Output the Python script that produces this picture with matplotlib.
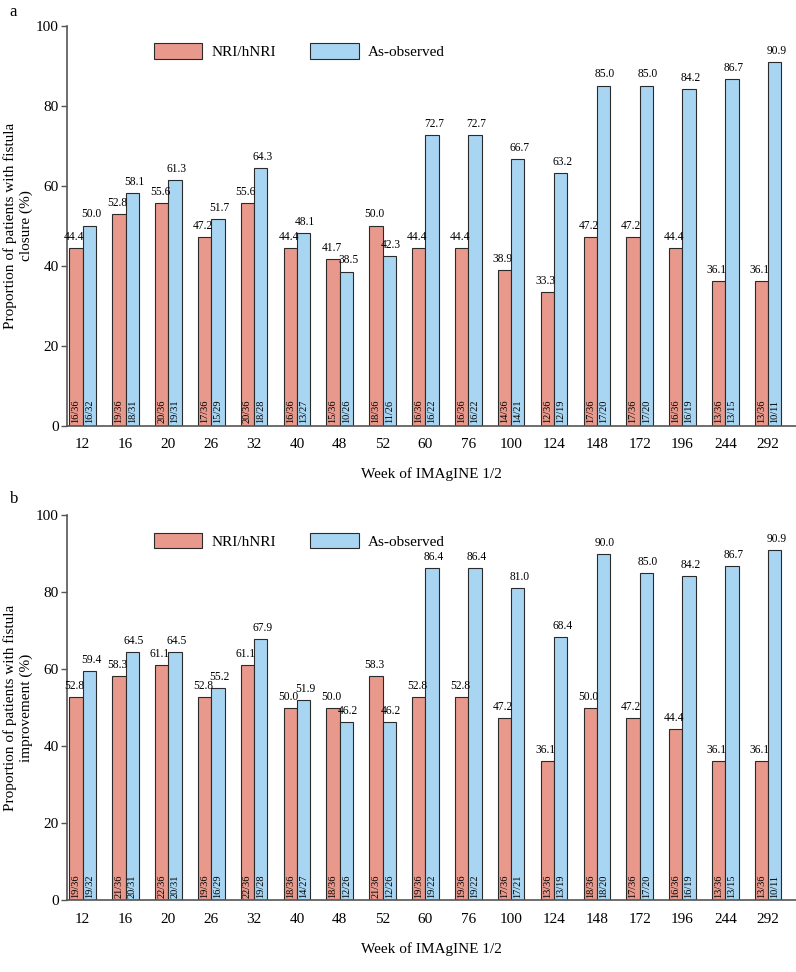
import matplotlib
matplotlib.use("Agg")
import matplotlib.pyplot as plt
import numpy as np
from matplotlib.patches import Patch

plt.rcParams['font.family'] = ['Liberation Serif', 'DejaVu Serif']

weeks = ["12", "16", "20", "26", "32", "40", "48", "52", "60", "76", "100", "124", "148", "172", "196", "244", "292"]

closure_nri = [44.4, 52.8, 55.6, 47.2, 55.6, 44.4, 41.7, 50.0, 44.4, 44.4, 38.9, 33.3, 47.2, 47.2, 44.4, 36.1, 36.1]
closure_ao = [50.0, 58.1, 61.3, 51.7, 64.3, 48.1, 38.5, 42.3, 72.7, 72.7, 66.7, 63.2, 85.0, 85.0, 84.2, 86.7, 90.9]
closure_nri_n = ["16/36", "19/36", "20/36", "17/36", "20/36", "16/36", "15/36", "18/36", "16/36", "16/36", "14/36", "12/36", "17/36", "17/36", "16/36", "13/36", "13/36"]
closure_ao_n = ["16/32", "18/31", "19/31", "15/29", "18/28", "13/27", "10/26", "11/26", "16/22", "16/22", "14/21", "12/19", "17/20", "17/20", "16/19", "13/15", "10/11"]

improve_nri = [52.8, 58.3, 61.1, 52.8, 61.1, 50.0, 50.0, 58.3, 52.8, 52.8, 47.2, 36.1, 50.0, 47.2, 44.4, 36.1, 36.1]
improve_ao = [59.4, 64.5, 64.5, 55.2, 67.9, 51.9, 46.2, 46.2, 86.4, 86.4, 81.0, 68.4, 90.0, 85.0, 84.2, 86.7, 90.9]
improve_nri_n = ["19/36", "21/36", "22/36", "19/36", "22/36", "18/36", "18/36", "21/36", "19/36", "19/36", "17/36", "13/36", "18/36", "17/36", "16/36", "13/36", "13/36"]
improve_ao_n = ["19/32", "20/31", "20/31", "16/29", "19/28", "14/27", "12/26", "12/26", "19/22", "19/22", "17/21", "13/19", "18/20", "17/20", "16/19", "13/15", "10/11"]

RED = "#E8998B"
BLUE = "#A8D5F1"
EDGE = "#2a2a2a"
AXC = "#555555"

fig = plt.figure(figsize=(7.96, 9.72), dpi=100)

def panel(rect, nri, ao, nri_n, ao_n, ylabel, letter, letter_y):
    ax = fig.add_axes(rect)
    x = np.arange(len(weeks))
    w = 0.31
    ax.bar(x - w/2, nri, w, color=RED, edgecolor=EDGE, linewidth=0.8, label="NRI/hNRI")
    ax.bar(x + w/2, ao, w, color=BLUE, edgecolor=EDGE, linewidth=0.8, label="As-observed")
    for i in range(len(weeks)):
        ax.text(x[i] - w/2 - 0.04, nri[i] + 1.3, f"{nri[i]:.1f}", ha='center', va='bottom', fontsize=8.3)
        ax.text(x[i] + w/2 + 0.04, ao[i] + 1.3, f"{ao[i]:.1f}", ha='center', va='bottom', fontsize=8.3)
        ax.text(x[i] - w/2, 0.6, nri_n[i], rotation=90, ha='center', va='bottom', fontsize=7.5)
        ax.text(x[i] + w/2, 0.6, ao_n[i], rotation=90, ha='center', va='bottom', fontsize=7.5)
    ax.set_xlim(-0.37, 16.65)
    ax.set_ylim(0, 100)
    ax.set_yticks([0, 20, 40, 60, 80, 100])
    ax.set_xticks(x)
    ax.set_xticklabels(weeks, fontsize=11)
    ax.tick_params(axis='x', length=0, pad=9)
    ax.tick_params(axis='y', length=4, width=1, color=AXC, labelsize=11, pad=2)
    for s in ['top', 'right']:
        ax.spines[s].set_visible(False)
    for s in ['left', 'bottom']:
        ax.spines[s].set_color(AXC)
        ax.spines[s].set_linewidth(1.2)
    ax.set_xlabel("Week of IMAgINE 1/2", fontsize=11, labelpad=12)
    ax.set_ylabel(ylabel, fontsize=11, linespacing=1.25)
    ax.yaxis.set_label_coords(-0.047, 0.5)
    handles = [Patch(facecolor=RED, edgecolor=EDGE, linewidth=0.8),
               Patch(facecolor=BLUE, edgecolor=EDGE, linewidth=0.8)]
    ax.legend(handles, ["NRI/hNRI", "As-observed"], loc='upper left', bbox_to_anchor=(0.1, 0.99),
              ncol=2, frameon=False, fontsize=11, handlelength=3.2, handleheight=1.2,
              columnspacing=2.2, handletextpad=0.6)
    fig.text(0.012, letter_y, letter, fontsize=12, va='center')
    return ax

panel([0.084, 0.5622, 0.916, 0.4115], closure_nri, closure_ao, closure_nri_n, closure_ao_n,
      "Proportion of patients with fistula\nclosure (%)", "a", 0.988)
panel([0.084, 0.074, 0.916, 0.396], improve_nri, improve_ao, improve_nri_n, improve_ao_n,
      "Proportion of patients with fistula\nimprovement (%)", "b", 0.487)

fig.savefig("out.png", dpi=100)
